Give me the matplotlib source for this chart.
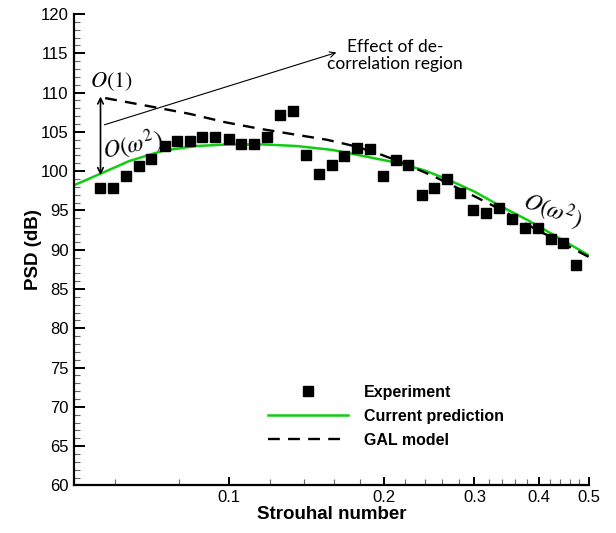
import matplotlib
matplotlib.use("Agg")
import matplotlib.pyplot as plt
from matplotlib.ticker import FixedLocator, MultipleLocator, NullFormatter

plt.rcParams['font.family'] = ['Liberation Sans', 'DejaVu Sans']
plt.rcParams['mathtext.fontset'] = 'stix'

# experiment (Strouhal, PSD dB)
st_exp = [0.0562, 0.0595, 0.0632, 0.0668, 0.0707, 0.0750, 0.0792, 0.0839, 0.0888, 0.0941,
          0.0999, 0.1057, 0.1118, 0.1188, 0.1259, 0.1332, 0.1415, 0.1495, 0.1586, 0.1674,
          0.1778, 0.1878, 0.1993, 0.2110, 0.2234, 0.2371, 0.2509, 0.2656, 0.2811, 0.2975,
          0.3158, 0.3352, 0.3548, 0.3755, 0.3986, 0.4220, 0.4466, 0.4727]
psd_exp = [97.8, 97.8, 99.4, 100.6, 101.5, 103.2, 103.8, 103.9, 104.4, 104.4,
           104.1, 103.5, 103.4, 104.4, 107.1, 107.6, 102.1, 99.6, 100.8, 101.9,
           103.0, 102.8, 99.4, 101.4, 100.8, 97.0, 97.8, 99.0, 97.2, 95.1,
           94.7, 95.3, 93.9, 92.8, 92.7, 91.4, 90.8, 88.1]

# current prediction
st_cur = [0.050, 0.0564, 0.0641, 0.0745, 0.0864, 0.100, 0.1165, 0.1352, 0.159, 0.18,
          0.211, 0.24, 0.265, 0.30, 0.336, 0.38, 0.43, 0.50]
psd_cur = [98.2, 99.7, 101.3, 102.6, 103.2, 103.4, 103.4, 103.2, 102.7, 102.0,
           101.1, 100.1, 99.0, 97.4, 95.6, 93.8, 91.8, 89.3]

# GAL model
st_gal = [0.0575, 0.0722, 0.0838, 0.0988, 0.1147, 0.1332, 0.155, 0.175, 0.194, 0.215,
          0.249, 0.298, 0.34, 0.39, 0.44, 0.50]
psd_gal = [109.3, 108.1, 107.3, 106.2, 105.4, 104.7, 104.0, 103.2, 102.3, 101.2,
           99.4, 96.9, 95.0, 92.8, 91.0, 89.1]

x_major = [0.1, 0.2, 0.3, 0.4, 0.5]
x_labels = ['0.1', '0.2', '0.3', '0.4', '0.5']
x_minor = [0.06, 0.08, 0.12, 0.14, 0.16, 0.18, 0.22, 0.24, 0.26, 0.28,
           0.32, 0.34, 0.36, 0.38, 0.42, 0.44, 0.46, 0.48]

fig = plt.figure(figsize=(6.16, 5.33), dpi=100)
ax = fig.add_axes([0.1201, 0.0893, 0.8353, 0.8844])

ax.plot(st_exp, psd_exp, 's', color='black', ms=7.6, label='Experiment', zorder=3)
ax.plot(st_cur, psd_cur, '-', color='#11cc11', lw=1.8, label='Current prediction', zorder=2)
ax.plot(st_gal, psd_gal, '--', color='black', lw=1.7, dashes=(5, 3.5), label='GAL model', zorder=2)

ax.set_xscale('log')
ax.set_xlim(0.05, 0.5)
ax.set_ylim(60, 120)
ax.xaxis.set_major_locator(FixedLocator(x_major))
ax.xaxis.set_minor_locator(FixedLocator(x_minor))
ax.xaxis.set_minor_formatter(NullFormatter())
ax.set_xticklabels(x_labels)
ax.yaxis.set_major_locator(MultipleLocator(5))
ax.yaxis.set_minor_locator(MultipleLocator(1))

for s in ['top', 'right']:
    ax.spines[s].set_visible(False)
for s in ['left', 'bottom']:
    ax.spines[s].set_linewidth(1.6)

ax.tick_params(axis='both', which='both', direction='in', labelsize=12, color='black')
ax.tick_params(axis='y', which='major', length=8, width=1.4, pad=4)
ax.tick_params(axis='y', which='minor', length=4, width=0.8, color='#666666')
ax.tick_params(axis='x', which='major', length=6, width=1.4, pad=3)
ax.tick_params(axis='x', which='minor', length=4, width=0.8, color='#666666')

ax.set_xlabel('Strouhal number', fontsize=13.5, fontweight='bold', labelpad=1)
ax.set_ylabel('PSD (dB)', fontsize=13.5, fontweight='bold', labelpad=-1)

# annotations
ax.annotate('', xy=(0.0563, 109.5), xytext=(0.0563, 99.5),
            arrowprops=dict(arrowstyle='<->', lw=1.2, color='black', shrinkA=0, shrinkB=0))
ax.annotate('', xy=(0.1618, 115.1), xytext=(0.0573, 105.9),
            arrowprops=dict(arrowstyle='->', lw=0.8, color='black', shrinkA=0, shrinkB=0))
ax.text(0.2101, 114.7, 'Effect of de-\ncorrelation region', family=['Lato', 'DejaVu Sans'],
        fontsize=12.5, ha='center', va='center', linespacing=1.1)
ax.text(0.0591, 111.4, r'$O(1)$', fontsize=16, ha='center', va='center')
ax.text(0.0650, 103.3, r'$O(\omega^2)$', fontsize=17, ha='center', va='center', rotation=12)
ax.text(0.4264, 95.0, r'$O(\omega^2)$', fontsize=17, ha='center', va='center', rotation=-20)

ax.legend(loc='upper left', bbox_to_anchor=(268 / 616, 1 - 385 / 533),
          bbox_transform=fig.transFigure, frameon=False, numpoints=1,
          prop={'weight': 'bold', 'size': 11.5}, handlelength=5.0,
          handletextpad=1.0, labelspacing=0.55, borderpad=0, borderaxespad=0)

fig.savefig('out.png', dpi=100)
